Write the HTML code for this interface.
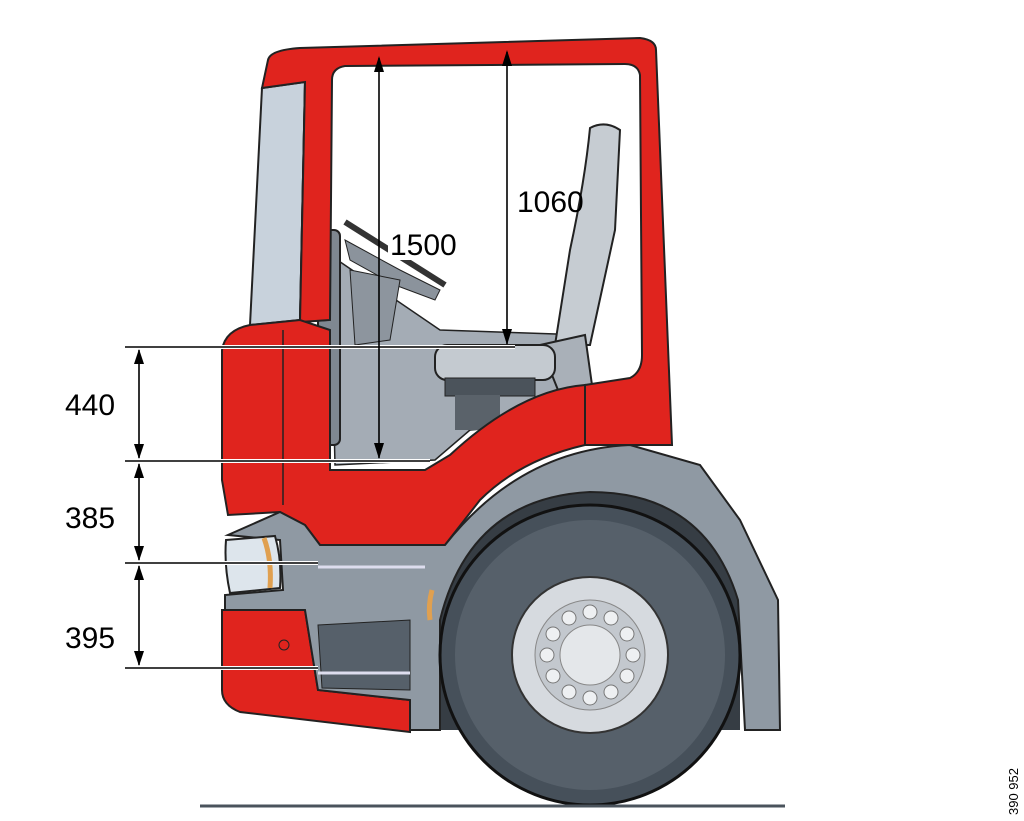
<!DOCTYPE html>
<html><head><meta charset="utf-8"><style>
html,body{margin:0;padding:0;background:#fff;width:1024px;height:821px;overflow:hidden}
svg{display:block}
text{font-family:"Liberation Sans",sans-serif}
</style></head><body>
<svg width="1024" height="821" viewBox="0 0 1024 821" xmlns="http://www.w3.org/2000/svg">
<!-- interior -->
<polygon points="330,255 440,330 585,335 590,420 470,430 435,460 335,465" fill="#a4acb5" stroke="#222" stroke-width="1.5"/>
<polygon points="345,240 400,270 440,290 435,300 395,285 350,260" fill="#8b939c" stroke="#222"/>
<line x1="345" y1="222" x2="445" y2="285" stroke="#333" stroke-width="6"/>
<polygon points="350,270 400,280 390,340 355,345" fill="#8d959e" stroke="#222"/>
<rect x="318" y="230" width="22" height="215" rx="6" fill="#7f8891" stroke="#222" stroke-width="2"/>
<!-- seat -->
<path d="M590,128 Q605,120 620,130 L615,230 Q600,300 590,345 L555,345 L570,250 Q585,180 590,128Z" fill="#c6ccd2" stroke="#222" stroke-width="2"/>
<polygon points="540,345 585,335 592,385 560,395" fill="#a9b0b8" stroke="#222" stroke-width="2"/>
<rect x="435" y="345" width="120" height="35" rx="12" fill="#c4cad0" stroke="#222" stroke-width="2"/>
<rect x="445" y="378" width="90" height="18" fill="#4b535b" stroke="#222"/>
<rect x="455" y="395" width="45" height="35" fill="#5a626a"/>
<!-- windshield -->
<polygon points="262,88 305,82 300,320 250,325" fill="#c8d2dc" stroke="#222" stroke-width="2"/>
<polygon points="305,82 330,78 328,320 300,322" fill="#5d656d" stroke="#222" stroke-width="2"/>
<!-- roof & pillars -->
<path d="M268,60 Q270,50 300,48 L640,38 Q656,40 656,50 L672,445 L585,445 L585,385 L630,378 Q642,372 642,355 L640,75 Q638,64 625,64 L345,66 Q332,68 332,80 L330,320 L300,322 L305,82 L262,88 Z" fill="#e0241e" stroke="#222" stroke-width="2"/>
<!-- front red -->
<path d="M222,350 Q225,330 250,325 L300,320 L330,330 L330,470 L425,470 L450,455 Q520,390 585,385 L585,445 Q520,460 480,500 L445,545 L320,545 L305,525 L280,512 L228,515 L222,480 Z" fill="#e0241e" stroke="#222" stroke-width="2"/>
<path d="M222,610 L305,610 L318,690 L410,700 L410,732 L240,712 Q222,705 222,690 Z" fill="#e0241e" stroke="#222" stroke-width="2"/>
<line x1="283" y1="330" x2="283" y2="505" stroke="#222" stroke-width="1.5"/>
<!-- wheel well -->
<path d="M440,730 L440,620 Q470,495 590,492 Q710,495 740,600 L740,730 Z" fill="#363d44"/>
<!-- fender/grey body -->
<path d="M280,512 L305,525 L320,545 L445,545 Q520,450 630,445 L700,465 L740,520 L778,600 L780,730 L745,730 L738,600 Q705,492 590,492 Q470,498 440,620 L440,730 L410,730 L410,700 L318,690 L305,610 L225,610 L225,595 L283,590 L280,540 L228,535 Z" fill="#8f99a3" stroke="#222" stroke-width="2"/>
<path d="M318,625 L410,620 L410,690 L322,688 Z" fill="#56606a" stroke="#222"/>
<line x1="318" y1="567" x2="425" y2="567" stroke="#dde" stroke-width="3"/>
<line x1="318" y1="673" x2="410" y2="673" stroke="#dde" stroke-width="3"/>
<!-- headlight -->
<path d="M226,540 L275,536 Q282,560 280,588 L230,593 Q224,565 226,540Z" fill="#dde5ec" stroke="#222" stroke-width="2"/>
<path d="M264,538 Q272,560 270,588" stroke="#e0a050" stroke-width="5" fill="none"/>
<path d="M432,590 Q428,605 430,620" stroke="#e0a050" stroke-width="5" fill="none"/>
<circle cx="284" cy="645" r="5" fill="none" stroke="#222"/>
<!-- wheel -->
<circle cx="590" cy="655" r="150" fill="#46505a" stroke="#111" stroke-width="3"/>
<circle cx="590" cy="655" r="135" fill="#56606a"/>
<circle cx="590" cy="655" r="78" fill="#d6dadf" stroke="#333" stroke-width="2"/>
<circle cx="590" cy="655" r="55" fill="#c3c8ce" stroke="#888"/>
<circle cx="590" cy="655" r="30" fill="#e4e7ea" stroke="#888"/>
<g fill="#eef0f2" stroke="#777">
<circle cx="590" cy="612" r="7"/><circle cx="611" cy="618" r="7"/><circle cx="627" cy="634" r="7"/><circle cx="633" cy="655" r="7"/><circle cx="627" cy="676" r="7"/><circle cx="611" cy="692" r="7"/><circle cx="590" cy="698" r="7"/><circle cx="569" cy="692" r="7"/><circle cx="553" cy="676" r="7"/><circle cx="547" cy="655" r="7"/><circle cx="553" cy="634" r="7"/><circle cx="569" cy="618" r="7"/>
</g>
<!-- ground -->
<line x1="200" y1="806" x2="785" y2="806" stroke="#4a535c" stroke-width="3"/>
<!-- dimensions -->
<g stroke="#000" stroke-width="1.6" fill="none">
<line x1="125" y1="347" x2="515" y2="347" stroke="#fff" stroke-width="4"/>
<line x1="125" y1="347" x2="515" y2="347"/>
<line x1="125" y1="461" x2="430" y2="461" stroke="#fff" stroke-width="4"/>
<line x1="125" y1="461" x2="430" y2="461"/>
<line x1="125" y1="563" x2="318" y2="563" stroke="#fff" stroke-width="4"/>
<line x1="125" y1="563" x2="318" y2="563"/>
<line x1="125" y1="668" x2="318" y2="668" stroke="#fff" stroke-width="4"/>
<line x1="125" y1="668" x2="318" y2="668"/>
<line x1="139" y1="350" x2="139" y2="458"/>
<line x1="139" y1="464" x2="139" y2="560"/>
<line x1="139" y1="566" x2="139" y2="665"/>
<line x1="379" y1="58" x2="379" y2="458"/>
<line x1="507" y1="52" x2="507" y2="344"/>
</g>
<g fill="#000">
<polygon points="139,349 134,364 144,364"/><polygon points="139,459 134,444 144,444"/>
<polygon points="139,463 134,478 144,478"/><polygon points="139,561 134,546 144,546"/>
<polygon points="139,565 134,580 144,580"/><polygon points="139,666 134,651 144,651"/>
<polygon points="379,56 374,72 384,72"/><polygon points="379,459 374,443 384,443"/>
<polygon points="507,50 502,66 512,66"/><polygon points="507,345 502,329 512,329"/>
</g>
<rect x="388" y="228" width="76" height="32" fill="#fff"/>
<g font-size="30" fill="#000">
<text x="65" y="415">440</text>
<text x="65" y="528">385</text>
<text x="65" y="648">395</text>
<text x="390" y="255">1500</text>
<text x="517" y="212">1060</text>
</g>
<text x="1018" y="815" font-size="13" transform="rotate(-90 1018 815)">390 952</text>
</svg>
</body></html>
